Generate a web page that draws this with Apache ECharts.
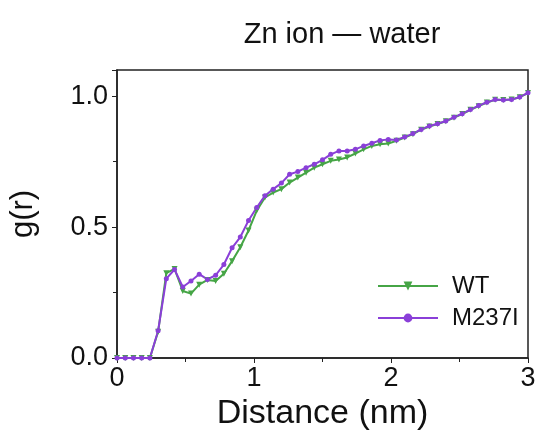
<!DOCTYPE html>
<html lang="en">
<head>
    <meta charset="UTF-8">
    <title>Zn ion - water</title>
    <script src="https://cdn.jsdelivr.net/npm/echarts@6/dist/echarts.min.js"></script>
    <style>
        html, body { margin: 0; padding: 0; background: #fff; }
    </style>
</head>
<body>
<div id="main" style="width: 539px;height:443px;"></div>
<script type="text/javascript">
    // distance (nm)
    var distance = [0, 0.06, 0.12, 0.18, 0.24, 0.30, 0.36, 0.42, 0.48, 0.54,
        0.60, 0.66, 0.72, 0.78, 0.84, 0.90, 0.96, 1.02, 1.08, 1.14,
        1.20, 1.26, 1.32, 1.38, 1.44, 1.50, 1.56, 1.62, 1.68, 1.74,
        1.80, 1.86, 1.92, 1.98, 2.04, 2.10, 2.16, 2.22, 2.28, 2.34,
        2.40, 2.46, 2.52, 2.58, 2.64, 2.70, 2.76, 2.82, 2.88, 2.94, 3.00];

    // g(r) values
    var wt = [0, 0, 0, 0, 0, 0.100, 0.324, 0.340, 0.256, 0.246,
        0.280, 0.298, 0.294, 0.322, 0.370, 0.423, 0.487, 0.563, 0.613, 0.632,
        0.645, 0.670, 0.689, 0.708, 0.727, 0.740, 0.753, 0.758, 0.766, 0.781,
        0.797, 0.810, 0.816, 0.819, 0.830, 0.842, 0.855, 0.872, 0.884, 0.894,
        0.904, 0.918, 0.932, 0.948, 0.962, 0.976, 0.986, 0.985, 0.987, 0.996, 1.012];
    var m237i = [0, 0, 0, 0, 0, 0.104, 0.303, 0.338, 0.271, 0.294,
        0.320, 0.300, 0.316, 0.357, 0.421, 0.462, 0.525, 0.575, 0.620, 0.645,
        0.668, 0.702, 0.712, 0.727, 0.740, 0.757, 0.778, 0.791, 0.791, 0.797,
        0.810, 0.820, 0.831, 0.835, 0.833, 0.844, 0.857, 0.873, 0.886, 0.895,
        0.905, 0.920, 0.933, 0.949, 0.964, 0.977, 0.987, 0.985, 0.987, 0.997, 1.013];

    var xTicks = [0, 1, 2, 3];
    var yTicks = [0, 0.5, 1.0];

    function pairs(ys) {
        return distance.map(function (d, i) { return [d, ys[i]]; });
    }

    var font = 'Liberation Sans, Arial, sans-serif';
    var green = '#46a546';
    var purple = '#8a3fd8';

    var option = {
        animation: false,
        title: {
            text: 'Zn ion \u2014 water',
            left: 337,
            top: 15,
            textAlign: 'center',
            textStyle: { fontFamily: font, fontSize: 29, fontWeight: 'normal', color: '#111' }
        },
        legend: {
            orient: 'vertical',
            left: 372,
            top: 269,
            itemWidth: 60,
            itemHeight: 11,
            itemGap: 8,
            textStyle: { fontFamily: font, fontSize: 24, color: '#111', padding: [0, 0, 0, 9] },
            data: ['WT', 'M237I']
        },
        grid: {
            left: 116,
            right: 11,
            top: 70,
            bottom: 85,
            show: true,
            borderColor: '#222',
            borderWidth: 1.5
        },
        xAxis: {
            type: 'value',
            min: 0,
            max: 3,
            interval: 1,
            name: 'Distance (nm)',
            nameLocation: 'middle',
            nameGap: 36,
            nameTextStyle: { fontFamily: font, fontSize: 34, color: '#111' },
            axisLine: { lineStyle: { color: '#222', width: 1.5 } },
            axisTick: { length: 5, lineStyle: { color: '#222' } },
            minorTick: { show: true, splitNumber: 2, length: 4, lineStyle: { color: '#222' } },
            splitLine: { show: false },
            axisLabel: {
                fontFamily: font, fontSize: 27, color: '#111', margin: 7,
                formatter: function (v) { return xTicks.indexOf(v) >= 0 ? String(v) : ''; }
            }
        },
        yAxis: {
            type: 'value',
            min: 0,
            max: 1.1,
            interval: 0.5,
            name: 'g(r)',
            nameLocation: 'middle',
            nameGap: 78,
            nameTextStyle: { fontFamily: font, fontSize: 31, color: '#111' },
            axisLine: { show: true, lineStyle: { color: '#222', width: 1.5 } },
            axisTick: { length: 5, lineStyle: { color: '#222' } },
            minorTick: { show: true, splitNumber: 2, length: 4, lineStyle: { color: '#222' } },
            splitLine: { show: false },
            axisLabel: {
                fontFamily: font, fontSize: 27, color: '#111', margin: 9,
                showMaxLabel: false,
                formatter: function (v) {
                    for (var i = 0; i < yTicks.length; i++) {
                        if (Math.abs(yTicks[i] - v) < 1e-6) return v.toFixed(1);
                    }
                    return '';
                }
            }
        },
        series: [{
            name: 'WT',
            type: 'line',
            data: pairs(wt),
            symbol: 'triangle',
            symbolRotate: 180,
            symbolSize: 6,
            color: green,
            lineStyle: { color: green, width: 2 },
            itemStyle: { color: green }
        }, {
            name: 'M237I',
            type: 'line',
            data: pairs(m237i),
            symbol: 'circle',
            symbolSize: 5,
            color: purple,
            lineStyle: { color: purple, width: 2 },
            itemStyle: { color: purple }
        }]
    };

    var myChart = echarts.init(document.getElementById('main'));
    myChart.setOption(option);
</script>
</body>
</html>
